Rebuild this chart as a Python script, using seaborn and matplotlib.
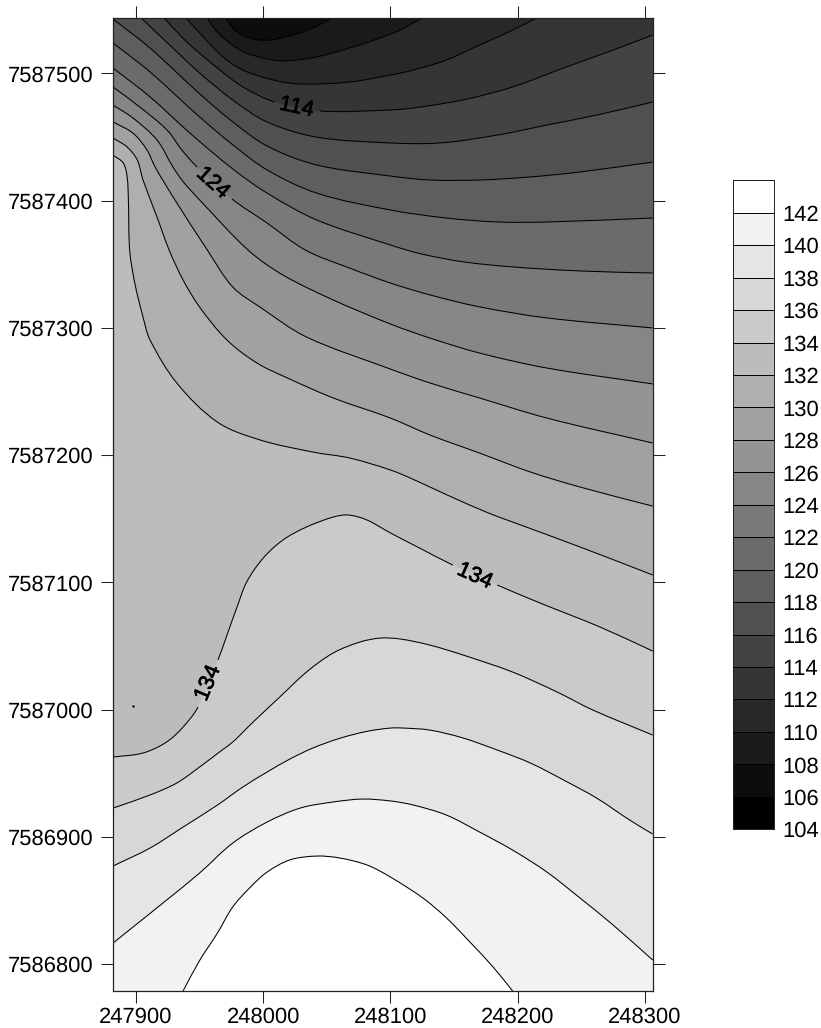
import matplotlib
matplotlib.use("Agg")
import matplotlib.pyplot as plt
import matplotlib.patheffects as pe
from matplotlib.patches import PathPatch
from matplotlib.path import Path
import numpy as np
import seaborn as sns

# Data are given as offsets from a base easting / northing
EAST0 = 247900
NORTH0 = 7587000

x_ticks = [247900, 248000, 248100, 248200, 248300]
y_ticks = [7586800, 7586900, 7587000, 7587100, 7587200, 7587300, 7587400, 7587500]
x_range = [-18.1, 406.1]
y_range = [-220.8, 543.6]
legend_levels = list(range(104, 144, 2))

x_142 = [37, 50, 64, 76, 90, 103, 121, 142, 160, 181.5, 200, 225.5, 244, 262.5, 280.5, 296]
y_142 = [-221, -197, -175.5, -155, -139.3, -127.6, -118, -115, -116.5, -122, -131.5, -148, -163.6, -182.6, -202, -221]
x_140 = [-18.1, -2.4, 24, 50, 76, 103, 129, 155, 178, 200, 218, 244, 270, 296, 323, 349, 375, 406.1]
y_140 = [-183.4, -170.8, -149.6, -128.3, -104.8, -88.3, -77.3, -72.5, -70.2, -71.7, -74.9, -82.8, -96.1, -110.3, -127.6, -148, -169.2, -196.7]
x_138 = [-18.1, 11, 37, 64, 84, 103, 121, 139, 160, 181.5, 200, 210, 231, 257, 284, 310, 336, 362, 388, 406.1]
y_138 = [-122.8, -108.7, -92.2, -74.9, -60.7, -49, -38.7, -30.1, -22.5, -17, -14.4, -14.4, -16, -22.2, -31.7, -41.9, -55.2, -69.4, -86.7, -97.7]
x_136 = [-18.1, 11, 32, 50, 67.6, 76, 92, 113, 134, 155, 176, 192, 207.5, 231, 257, 296, 331, 359, 406.1]
y_136 = [-77.3, -67, -57.6, -45, -31.7, -25.4, -9.7, 10, 29.6, 44.6, 53.2, 56.3, 55.6, 50.8, 43, 29.6, 13.9, -0.2, -19.9]
x_134 = [-18.1, 5.5, 24, 37, 48.7, 64.4, 71.5, 79.4, 87, 100, 115.5, 134, 155, 167, 181.5, 200, 223, 249, 284, 317.5, 364.7, 406.1]
y_134 = [-37.2, -34, -25.4, -13.6, 2.1, 39.1, 58.7, 80.7, 100.4, 119.2, 133.4, 143.6, 151.4, 153, 149.1, 138.9, 127, 113.7, 98, 83.9, 65, 46.1]
x_132 = [-18.1, -10, -7, -6, -5, -1, 5.5, 11, 32, 64, 97.5, 139, 168, 200, 218, 244, 276, 296, 349, 406.1]
y_132 = [435.9, 429.6, 418.7, 400.6, 361.3, 335.3, 308.6, 290.6, 256.8, 226, 212, 202.5, 197.8, 188.4, 181, 169, 155, 147.5, 127.9, 105.9]
x_130 = [-18.1, -7, 1, 5.5, 16.5, 26, 37, 50, 71.5, 95, 119, 155, 200, 231, 270, 310, 349, 406.1]
y_130 = [449.3, 442.2, 432, 416.3, 387.2, 361.3, 337.7, 316.4, 290.5, 272.5, 260.7, 245, 229.2, 215.9, 201.7, 186.8, 175, 160]
x_128 = [-18.1, -2.4, 8.6, 15, 30.6, 56, 76, 97.5, 134, 200, 231, 270, 323, 406.1]
y_128 = [461.9, 453.1, 439.9, 426.5, 400.6, 361.3, 332.2, 316.4, 292.9, 267.7, 256.8, 245, 229.2, 209.6]
x_126 = [-18.1, -2.4, 16.5, 29, 37, 50, 88, 115.5, 155, 200, 231, 270, 323, 406.1]
y_126 = [475.2, 465, 447.7, 426.5, 415, 400.6, 361.3, 341.6, 322, 303.1, 292.1, 280.3, 268.5, 256]
x_124 = [-18.1, 3, 24.4, 36, 48, 75.4, 103, 133, 168, 200, 231, 270, 323, 406.1]
y_124 = [489.4, 473.6, 455.5, 439.9, 426.5, 401.4, 382.5, 361.3, 347, 335.3, 326, 316.6, 307.9, 300]
x_122 = [-18.1, 11, 42.4, 76, 103, 142, 200, 223, 257, 296, 349, 406.1]
y_122 = [504.3, 481.6, 453.1, 425, 406, 384.9, 365.2, 358.5, 352, 348, 344.8, 343.2]
x_120 = [-18.1, 11, 50, 76, 103, 142, 200, 244, 284, 323, 406.1]
y_120 = [524, 501.2, 465.8, 444, 424.2, 406, 392.7, 386.4, 383.3, 383.3, 386.4]
x_118 = [-18.1, 11, 50, 76, 103, 142, 200, 231, 270, 310, 349, 406.1]
y_118 = [542.8, 520, 484, 462, 443, 428.1, 419.4, 416.3, 416.3, 418.7, 422.6, 430.4]
x_116 = [4, 24, 50, 76, 103, 142, 200, 239, 284, 323, 362, 406.1]
y_116 = [543.6, 524.7, 500.4, 479.2, 461.9, 450, 445.4, 445.4, 451.6, 459.5, 467.3, 477.6]
x_114 = [22, 40, 64, 84, 109, 144.6, 200, 218, 257, 296, 336, 375, 406.1]
y_114 = [543.6, 524.7, 504.3, 489.4, 477.6, 470.5, 471.3, 472.9, 479.2, 489.4, 504.3, 518.4, 530.2]
x_112 = [39.3, 50, 68.4, 84, 107.7, 129, 168, 200, 218, 244, 270, 296, 315]
y_112 = [543.6, 531.8, 513, 502.7, 494.9, 491.7, 493.3, 498.8, 502.7, 510.6, 522.3, 534.1, 543.6]
x_110 = [55.8, 63.7, 81.7, 103, 118.7, 142, 170.5, 192, 207.5, 224.8]
y_110 = [543.6, 532.6, 518.4, 511.4, 509.9, 513, 520.8, 528, 534.1, 543.6]
x_108 = [70, 79.4, 92, 105.3, 123.4, 139, 154]
y_108 = [543.6, 532.6, 527.1, 526.3, 530.2, 535.7, 543.6]

sample_x = [-2]
sample_y = [3]

# contour labels: text, easting offset, northing offset
label_text = ["114", "124", "134", "134"]
label_x = [126.5, 60.5, 56.6, 266.4]
label_y = [473.4, 413.9, 21, 105]

curves = {142: (x_142, y_142), 140: (x_140, y_140), 138: (x_138, y_138), 136: (x_136, y_136),
          134: (x_134, y_134), 132: (x_132, y_132), 130: (x_130, y_130), 128: (x_128, y_128),
          126: (x_126, y_126), 124: (x_124, y_124), 122: (x_122, y_122), 120: (x_120, y_120),
          118: (x_118, y_118), 116: (x_116, y_116), 114: (x_114, y_114), 112: (x_112, y_112),
          110: (x_110, y_110), 108: (x_108, y_108)}

# style
label_rot = [-12, -42, 67, -24]
line_gaps = {114: [4], 124: [4], 134: [4, 17]}   # segment index skipped under a label


def bezier_segments(xs, ys):
    """Control points of a smooth curve running through the read points."""
    p = np.column_stack([xs, ys]).astype(float)
    t = np.zeros_like(p)
    t[1:-1] = p[2:] - p[:-2]
    t[0] = p[1] - p[0]
    t[-1] = p[-1] - p[-2]
    t /= np.linalg.norm(t, axis=1, keepdims=True)
    segs = []
    for i in range(len(p) - 1):
        d = np.linalg.norm(p[i + 1] - p[i]) / 3
        segs.append((p[i] + t[i] * d, p[i + 1] - t[i + 1] * d, p[i + 1]))
    return p, segs


sns.set_theme(style="ticks")
plt.rcParams["font.family"] = ["Liberation Sans", "DejaVu Sans"]
plt.rcParams["text.hinting"] = "no_hinting"
plt.rcParams["text.hinting_factor"] = 1
FS = 15.7
W, H = 821, 1028
fig = plt.figure(figsize=(W / 100, H / 100), dpi=100, facecolor="white")

bands = sns.blend_palette(["#000000", "#ffffff"], len(legend_levels))
band_of = dict(zip(legend_levels, bands))

ax = fig.add_axes([113 / W, 1 - 990.7 / H, 539.7 / W, 972.7 / H])
ax.set_facecolor(band_of[140])
x0, x1 = EAST0 + x_range[0], EAST0 + x_range[1]
y0, y1 = NORTH0 + y_range[0], NORTH0 + y_range[1]

for level in sorted(curves, reverse=True):
    cx = np.array(curves[level][0], dtype=float) + EAST0
    cy = np.array(curves[level][1], dtype=float) + NORTH0
    p, segs = bezier_segments(cx, cy)
    verts, codes = [p[0]], [Path.MOVETO]
    for s in segs:
        verts.extend(s)
        codes.extend([Path.CURVE4] * 3)
    if level != 142:
        if cx[-1] >= x1 - 0.01:
            verts.append((x1, y1)); codes.append(Path.LINETO)
        if cx[0] <= x0 + 0.01:
            verts.append((x0, y1)); codes.append(Path.LINETO)
    verts.append(p[0]); codes.append(Path.CLOSEPOLY)
    colour = band_of[142] if level == 142 else band_of[level - 2]
    ax.add_patch(PathPatch(Path(verts, codes), facecolor=colour, edgecolor="none", lw=0, zorder=1))

for level, (cx, cy) in curves.items():
    p, segs = bezier_segments(np.array(cx) + EAST0, np.array(cy) + NORTH0)
    verts, codes = [], []
    for i, s in enumerate(segs):
        if i in line_gaps.get(level, []):
            continue
        if i == 0 or (i - 1) in line_gaps.get(level, []):
            verts.append(p[i]); codes.append(Path.MOVETO)
        verts.extend(s)
        codes.extend([Path.CURVE4] * 3)
    ax.add_patch(PathPatch(Path(verts, codes), facecolor="none", edgecolor="black", lw=0.75, zorder=2))

sns.scatterplot(x=np.array(sample_x) + EAST0, y=np.array(sample_y) + NORTH0, color="black",
                s=3, linewidth=0, legend=False, ax=ax, zorder=3)

for t, lx, ly, r in zip(label_text, label_x, label_y, label_rot):
    ax.text(lx + EAST0, ly + NORTH0, t, rotation=r, rotation_mode="anchor", ha="center",
            va="center", fontsize=FS, color="black", zorder=4,
            path_effects=[pe.withStroke(linewidth=0.5, foreground="black")])

ax.set_xlim(x0, x1)
ax.set_ylim(y0, y1)
ax.set_xticks(x_ticks, [str(v) for v in x_ticks])
ax.set_yticks(y_ticks, [str(v) for v in y_ticks])
ax.set_xlabel("")
ax.set_ylabel("")
ax.tick_params(axis="both", which="major", direction="out", length=8.8, width=0.75, color="#222222",
               top=True, right=True, labelsize=FS, pad=2.5, labelcolor="black")
ax.tick_params(axis="y", pad=5.5)
for s in ax.spines.values():
    s.set_visible(True)
    s.set_linewidth(0.9)
    s.set_color("#222222")

cb = fig.add_axes([733.3 / W, 1 - 829.3 / H, 41 / W, 649 / H])
cb.bar([0] * len(legend_levels), [2] * len(legend_levels), bottom=legend_levels, width=1,
       color=bands, edgecolor="black", linewidth=0.7)
cb.set_xlim(-0.5, 0.5)
cb.set_ylim(104, 144)
cb.set_xticks([])
cb.yaxis.tick_right()
cb.set_yticks(legend_levels, [str(v) for v in legend_levels])
cb.tick_params(axis="y", length=0, pad=5.5, labelsize=FS, labelcolor="black")
for s in cb.spines.values():
    s.set_linewidth(0.7)
    s.set_color("#222222")

fig.savefig("out.png", dpi=100)
